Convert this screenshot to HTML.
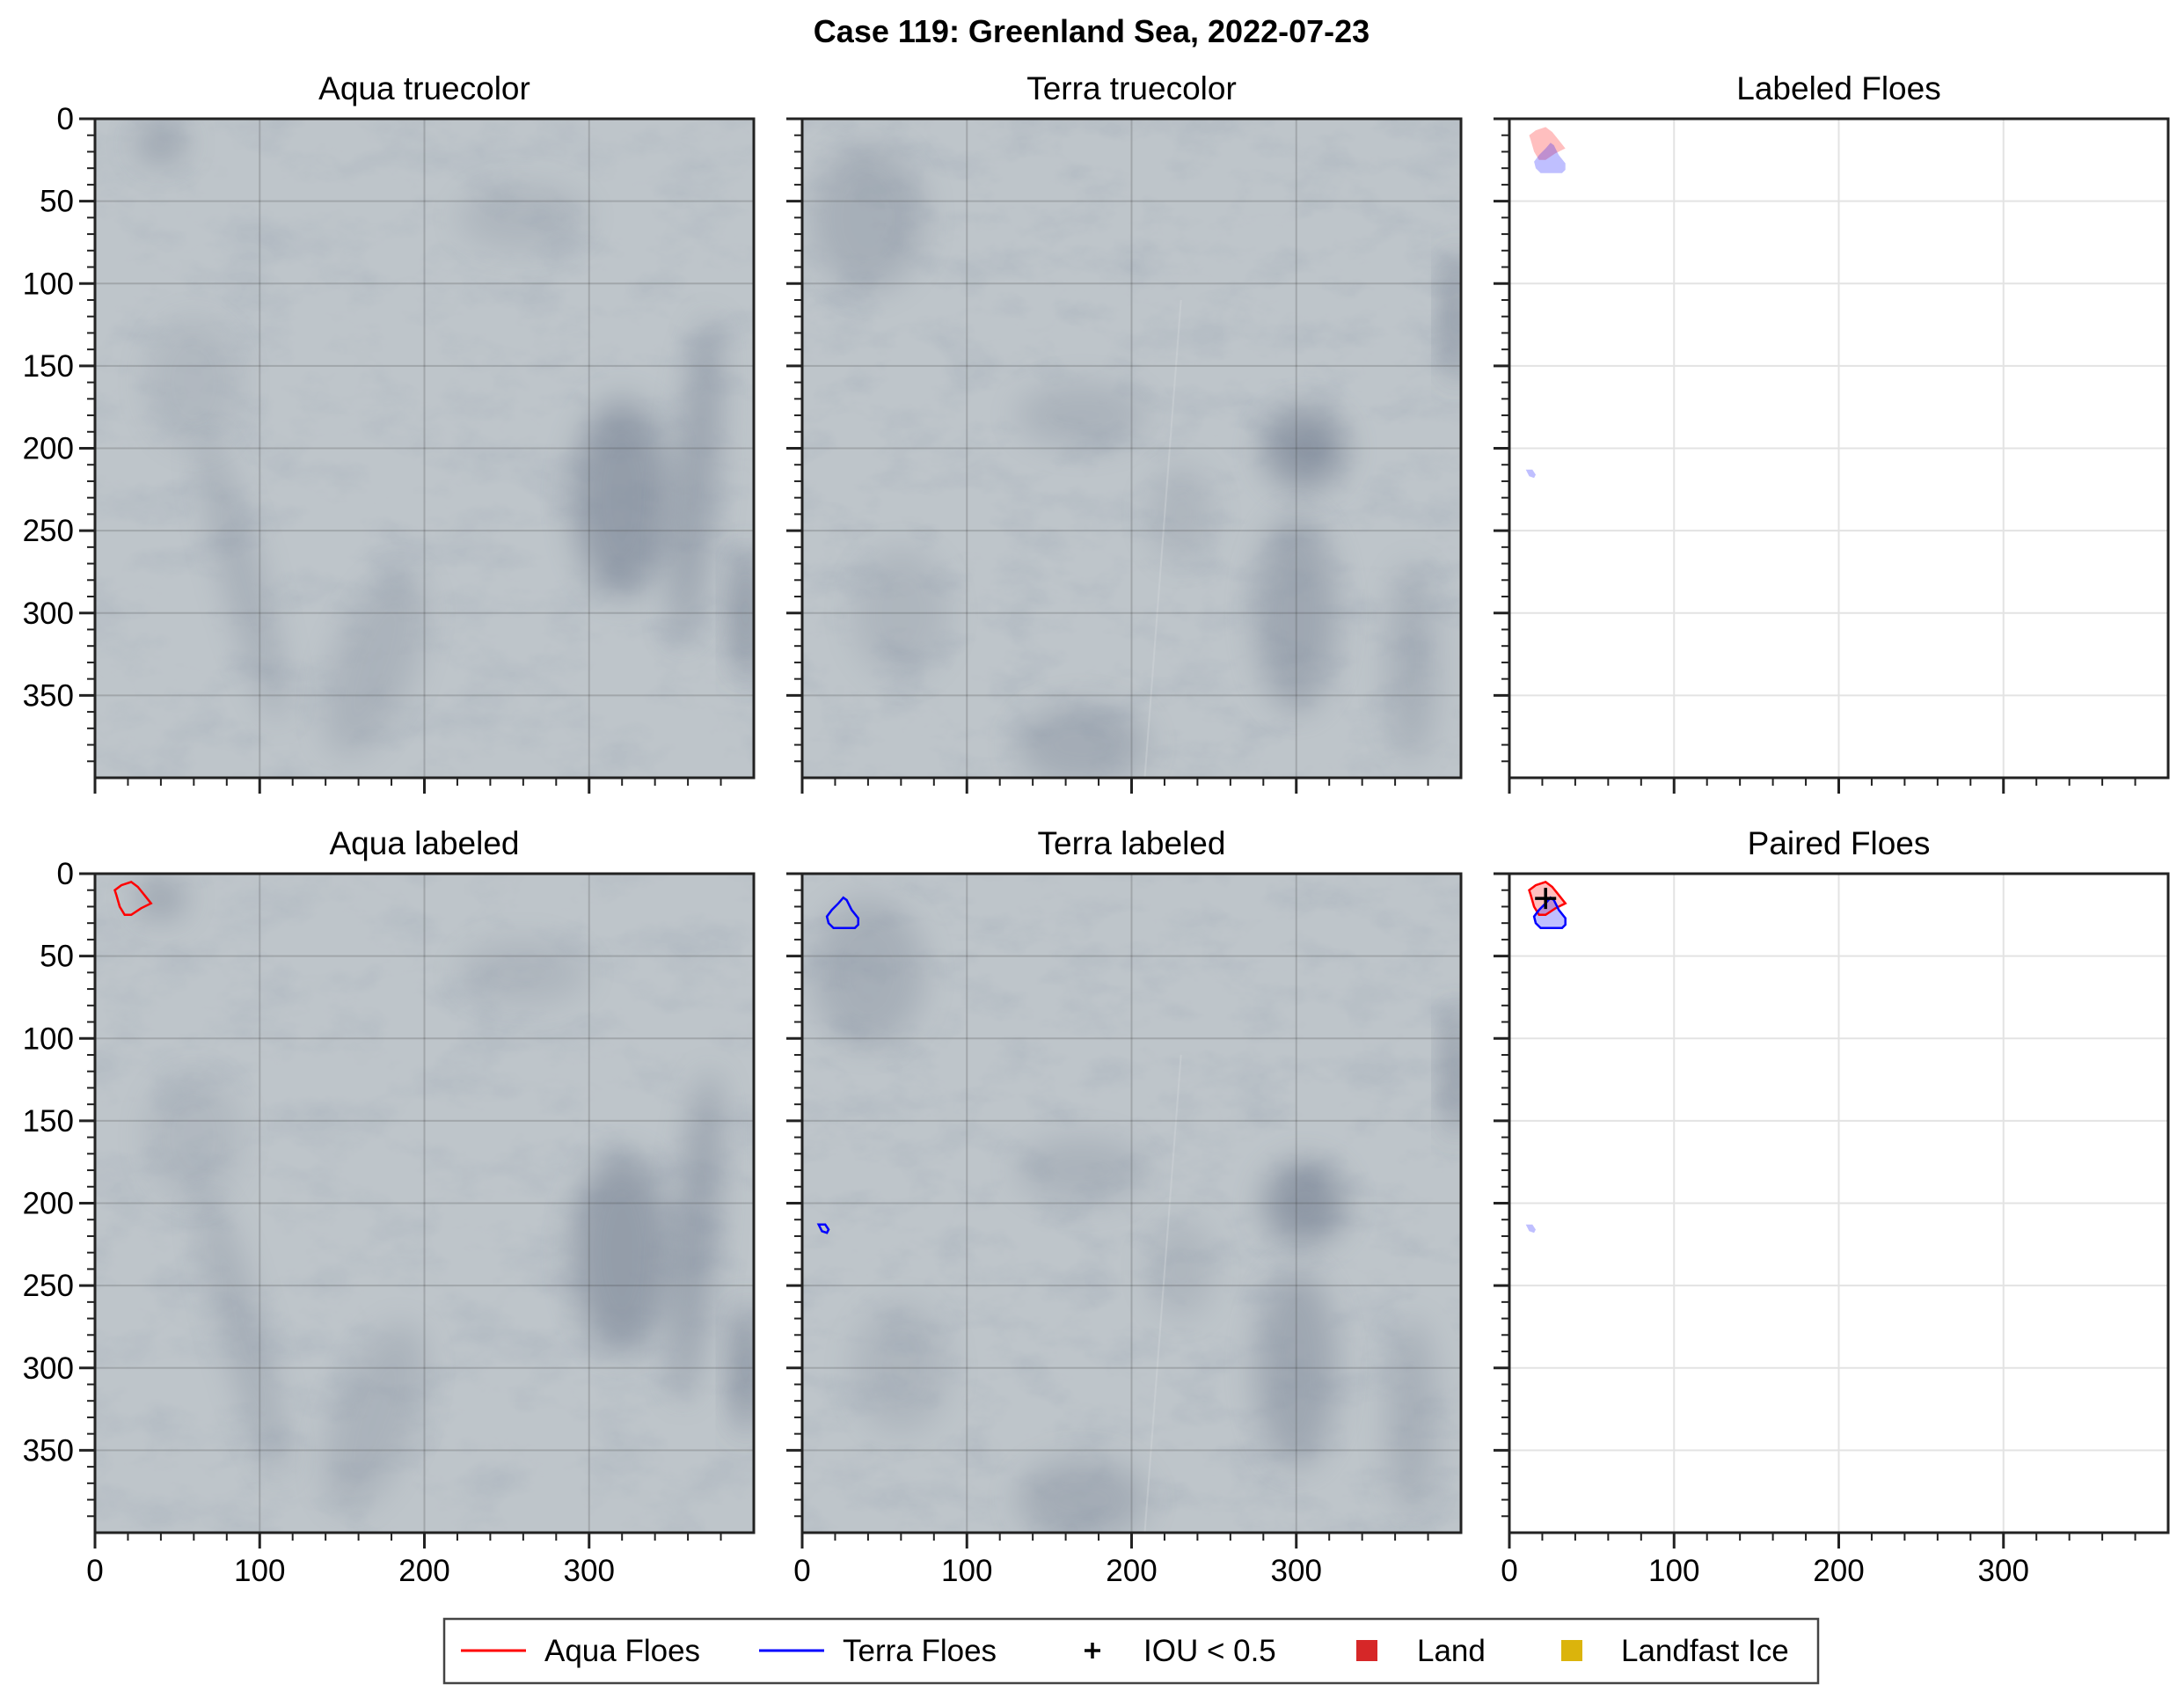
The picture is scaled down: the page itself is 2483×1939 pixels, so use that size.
<!DOCTYPE html>
<html><head><meta charset="utf-8">
<style>
html,body{margin:0;padding:0;background:#fff;}
body{width:2483px;height:1934px;overflow:hidden;font-family:"Liberation Sans",sans-serif;}
svg text{font-family:"Liberation Sans",sans-serif;}
</style></head>
<body>
<svg id="fig" width="2483" height="1934" viewBox="0 0 2483 1934" xmlns="http://www.w3.org/2000/svg">
<defs>
  <filter id="cloudA" x="0" y="0" width="100%" height="100%">
    <feTurbulence type="fractalNoise" baseFrequency="0.012 0.02" numOctaves="5" seed="3" result="n"/>
    <feColorMatrix in="n" type="matrix" values="0 0 0 0 0.40  0 0 0 0 0.45  0 0 0 0 0.51  0 0 0 -2.2 1.2" />
  </filter>
  <filter id="cloudB" x="0" y="0" width="100%" height="100%">
    <feTurbulence type="fractalNoise" baseFrequency="0.015 0.025" numOctaves="5" seed="11" result="n"/>
    <feColorMatrix in="n" type="matrix" values="0 0 0 0 0.40  0 0 0 0 0.45  0 0 0 0 0.51  0 0 0 -2.2 1.2" />
  </filter>
  <filter id="blur" x="-100%" y="-100%" width="300%" height="300%"><feGaussianBlur stdDeviation="18"/></filter>
</defs>
<g id="root"></g>
</svg>
<script>
// ---- data ----
const panelTitles = ["Aqua truecolor","Terra truecolor","Labeled Floes","Aqua labeled","Terra labeled","Paired Floes"];
const xTicks = [0,100,200,300];
const yTicks = [0,50,100,150,200,250,300,350];
const aquaFloeX = [12,16,22,26,30,34,28,22,18,15,13];
const aquaFloeY = [10,7,5,8,13,18,21,25,25,20,13];
const terraFloeX = [25,27,30,34,34,32,19,16,15,18,22];
const terraFloeY = [14.5,16,22,27,31,33,33,30,26,22,18];
const terraSmallX = [10,14,16,15,12];
const terraSmallY = [213,213,216,218,217];
const iouX = [22];
const iouY = [15];
const legendLabels = ["Aqua Floes","Terra Floes","IOU < 0.5","Land","Landfast Ice"];

const NS="http://www.w3.org/2000/svg";
const root=document.getElementById('root');
function mk(tag,attrs,parent){const e=document.createElementNS(NS,tag);for(const k in attrs)e.setAttribute(k,attrs[k]);(parent||root).appendChild(e);return e;}

const colX=[108,912,1716], rowY=[135,993], W=749, H=749;
const sx=W/400, sy=H/400;

let t=mk('text',{x:1241,y:48,'text-anchor':'middle','font-size':36,'font-weight':'bold'});
t.textContent="Case 119: Greenland Sea, 2022-07-23";



function darkBlobs(g,ox,oy,blobs){
  blobs.forEach(b=>{
    mk('ellipse',{cx:ox+b[0]*sx,cy:oy+b[1]*sy,rx:b[2]*sx,ry:b[3]*sy,fill:'#56647a',opacity:b[4],filter:'url(#blur)',transform:`rotate(${b[5]||0} ${ox+b[0]*sx} ${oy+b[1]*sy})`},g);
  });
}
const aquaBlobs=[[320,230,30,60,0.4,0],[365,220,12,100,0.35,5],[40,15,15,12,0.35,0],[90,280,12,90,0.22,-15],[170,330,25,60,0.18,20],[395,300,6,40,0.7,0],[260,60,40,20,0.15,0],[60,160,30,40,0.12,0]];
const terraBlobs=[[305,200,25,25,0.45,0],[300,300,25,60,0.3,0],[370,330,15,60,0.22,0],[40,60,35,45,0.22,0],[170,180,40,20,0.18,0],[170,380,40,25,0.25,0],[60,300,30,40,0.15,0],[397,120,5,40,0.7,0],[230,240,20,30,0.15,0]];

function axes(i){
  const r=Math.floor(i/3), c=i%3, ox=colX[c], oy=rowY[r];
  const g=mk('g',{});
  
  
  const isImg=(c<2);
  if(isImg){
    const clipId='clip'+i;
    const cp=mk('clipPath',{id:clipId},g);mk('rect',{x:ox,y:oy,width:W,height:H},cp);
    const ig=mk('g',{'clip-path':`url(#${clipId})`},g);
    
    
    mk('rect',{x:ox,y:oy,width:W,height:H,fill:'#bec5ca'},ig);
    mk('rect',{x:ox,y:oy,width:W,height:H,filter:c==0?'url(#cloudA)':'url(#cloudB)',opacity:0.5},ig);
    darkBlobs(ig,ox,oy,c==0?aquaBlobs:terraBlobs);
    if(c==1){mk('line',{x1:ox+208*sx,y1:oy+400*sy,x2:ox+230*sx,y2:oy+110*sy,stroke:'#d5d9dc','stroke-width':2,opacity:0.4},ig);}
  }
  const gc=isImg?'rgba(60,60,60,0.22)':'#e3e3e3';
  xTicks.forEach(v=>{if(v>0)mk('line',{x1:ox+v*sx,y1:oy,x2:ox+v*sx,y2:oy+H,stroke:gc,'stroke-width':2},g);});
  yTicks.forEach(v=>{if(v>0)mk('line',{x1:ox,y1:oy+v*sy,x2:ox+W,y2:oy+v*sy,stroke:gc,'stroke-width':2},g);});
  const P=(xs,ys)=>xs.map((x,k)=>(ox+x*sx).toFixed(1)+','+(oy+ys[k]*sy).toFixed(1)).join(' ');
  if(i==2||i==5){
    const a=mk('polygon',{points:P(aquaFloeX,aquaFloeY),fill:'rgba(255,0,0,0.25)'},g);
    
    const b=mk('polygon',{points:P(terraFloeX,terraFloeY),fill:'rgba(0,0,255,0.25)'},g);
    
    const s=mk('polygon',{points:P(terraSmallX,terraSmallY),fill:'rgba(0,0,255,0.25)'},g);
    
  }
  if(i==3||i==5){
    const a=mk('polygon',{points:P(aquaFloeX,aquaFloeY),fill:'none',stroke:'#ff0000','stroke-width':2.5},g);
    
  }
  if(i==4||i==5){
    const b=mk('polygon',{points:P(terraFloeX,terraFloeY),fill:'none',stroke:'#0000ff','stroke-width':2.5},g);
    
    if(i==4){
      const s=mk('polygon',{points:P(terraSmallX,terraSmallY),fill:'none',stroke:'#0000ff','stroke-width':2.5},g);
      
    }
  }
  if(i==5){
    iouX.forEach((x,k)=>{
      const px=ox+x*sx, py=oy+iouY[k]*sy;
      const m=mk('path',{d:`M${px-12},${py}H${px+12}M${px},${py-12}V${py+12}`,stroke:'#000','stroke-width':3.5},g);
      
    });
  }
  mk('rect',{x:ox,y:oy,width:W,height:H,fill:'none',stroke:'#222','stroke-width':3},g);
  for(let v=0;v<400;v+=10){const maj=v%50==0;mk('line',{x1:ox-(maj?18:9),y1:oy+v*sy,x2:ox,y2:oy+v*sy,stroke:'#222','stroke-width':maj?3:2},g);}
  for(let v=0;v<400;v+=20){const maj=v%100==0;mk('line',{x1:ox+v*sx,y1:oy+H,x2:ox+v*sx,y2:oy+H+(maj?18:9),stroke:'#222','stroke-width':maj?3:2},g);}
  if(c==0) yTicks.forEach(v=>{const tt=mk('text',{x:ox-24,y:oy+v*sy+12,'text-anchor':'end','font-size':35},g);tt.textContent=v;
    });
  if(r==1) xTicks.forEach(v=>{const tt=mk('text',{x:ox+v*sx,y:oy+H+55,'text-anchor':'middle','font-size':35},g);tt.textContent=v;
    });
  const tt=mk('text',{x:ox+W/2,y:oy-22,'text-anchor':'middle','font-size':37},g);tt.textContent=panelTitles[i];
  
}
for(let i=0;i<6;i++)axes(i);

const lg=mk('g',{});


mk('rect',{x:505,y:1840,width:1562,height:73,fill:'#fff',stroke:'#444','stroke-width':2.5},lg);
const ly=1876;
mk('line',{x1:524,y1:ly,x2:598,y2:ly,stroke:'#ff0000','stroke-width':3},lg);
mk('line',{x1:863,y1:ly,x2:937,y2:ly,stroke:'#0000ff','stroke-width':3},lg);
mk('path',{d:`M${1242-9},${ly}H${1242+9}M1242,${ly-9}V${ly+9}`,stroke:'#000','stroke-width':3.5},lg);
mk('rect',{x:1542,y:ly-12,width:24,height:24,fill:'#d62728'},lg);
mk('rect',{x:1775,y:ly-12,width:24,height:24,fill:'#dbb40c'},lg);
const lx=[619,958,1300,1611,1843];
legendLabels.forEach((s,k)=>{const e=mk('text',{x:lx[k],y:ly+12,'font-size':35},lg);e.textContent=s;
  });
</script>
</body></html>
